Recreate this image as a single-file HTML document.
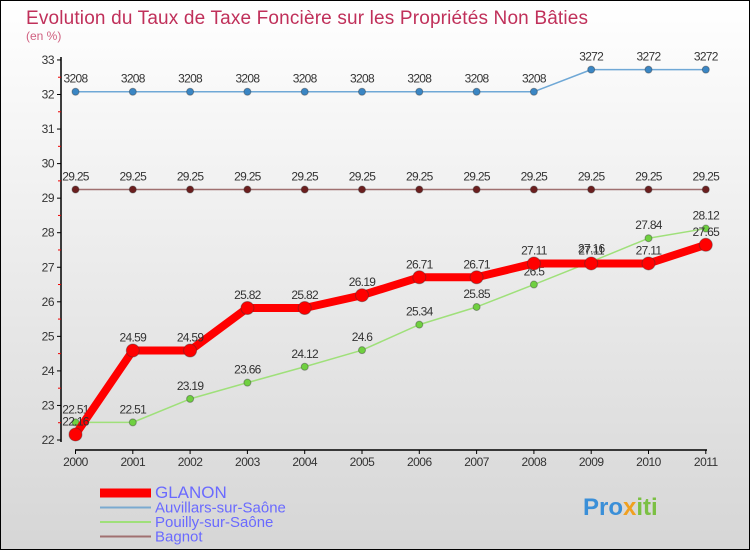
<!DOCTYPE html>
<html><head><meta charset="utf-8"><style>
body{margin:0;width:750px;height:550px;overflow:hidden;font-family:"Liberation Sans",sans-serif}
#wrap{position:absolute;left:0;top:0;width:748px;height:548px;border:1px solid #000;background:linear-gradient(#ffffff,#d6d6d6)}
</style></head><body>
<div id="wrap">
<svg id="svg" width="750" height="550" style="position:absolute;left:-1px;top:-1px">
<text x="26" y="24" font-size="19" fill="#c0305a" textLength="562">Evolution du Taux de Taxe Foncière sur les Propriétés Non Bâties</text>
<text x="26" y="40" font-size="12" fill="#d06080">(en %)</text>
</svg>
</div>
<script>
const years=["2000","2001","2002","2003","2004","2005","2006","2007","2008","2009","2010","2011"];
const glanon=[22.16,24.59,24.59,25.82,25.82,26.19,26.71,26.71,27.11,27.11,27.11,27.65];
const auvillars=[32.08,32.08,32.08,32.08,32.08,32.08,32.08,32.08,32.08,32.72,32.72,32.72];
const pouilly=[22.51,22.51,23.19,23.66,24.12,24.6,25.34,25.85,26.5,27.16,27.84,28.12];
const bagnot=[29.25,29.25,29.25,29.25,29.25,29.25,29.25,29.25,29.25,29.25,29.25,29.25];
const yTicks=[22,23,24,25,26,27,28,29,30,31,32,33];
const svg=document.getElementById('svg');const NS="http://www.w3.org/2000/svg";
const X=i=>75.5+i*57.3, Y=v=>440-(v-22)*34.55;
function el(t,a,p){const e=document.createElementNS(NS,t);for(const k in a)e.setAttribute(k,a[k]);(p||svg).appendChild(e);return e;}
const ax=el('line',{x1:61,y1:57,x2:61,y2:442,stroke:'#000','stroke-width':1.5});

const xa=el('line',{x1:75,y1:450,x2:707,y2:450,stroke:'#000','stroke-width':1.5});

yTicks.forEach(v=>{el('line',{x1:57,x2:61,y1:Y(v),y2:Y(v),stroke:'#000'});
if(v<33)el('line',{x1:58,x2:61,y1:Y(v+0.5),y2:Y(v+0.5),stroke:'#e00'});
const t=el('text',{x:54,y:Y(v)+4,'font-size':12,'text-anchor':'end',fill:'#333','letter-spacing':'-0.5'});t.textContent=v;
});
years.forEach((y,i)=>{el('line',{x1:X(i),x2:X(i),y1:450,y2:454,stroke:'#000'});
const t=el('text',{x:X(i),y:466,'font-size':12,'text-anchor':'middle',fill:'#333','letter-spacing':'-0.5'});t.textContent=y;
});
function series(data,color,w,r,dot,name,lbl){
const g=el('g',{});
el('polyline',{points:data.map((v,i)=>X(i)+','+Y(v)).join(' '),fill:'none',stroke:color,'stroke-width':w,'stroke-linejoin':'round'},g);
data.forEach((v,i)=>{const c=el('circle',{cx:X(i),cy:Y(v),r:r,fill:dot,stroke:'#333','stroke-opacity':0.4},g);

const t=el('text',{x:X(i),y:Y(v)-9,'font-size':12,'text-anchor':'middle',fill:'#333','letter-spacing':'-0.7'},g);
t.textContent=lbl?lbl(v):v;});}
series(auvillars,'#6fa8d6',1.5,3.5,'#3a86c4','auvillars-series',v=>v.toFixed(2).replace('.',''));
series(bagnot,'#a07070',1.5,3.5,'#6b1e1e','bagnot-series',v=>v.toFixed(2));
series(pouilly,'#9fe07a',1.5,3.5,'#6fd040','pouilly-series',v=>String(v));
series(glanon,'#f00',8,6.5,'#f00','glanon-series',v=>v.toFixed(2));
const leg=[['GLANON','#f00',9,17],['Auvillars-sur-Saône','#7aaad0',2,15],['Pouilly-sur-Saône','#9fe07a',2,15],['Bagnot','#a07070',2,15]];
leg.forEach((l,i)=>{const y=492+i*14.5;const g=el('g',{});
el('line',{x1:100,x2:151,y1:y+1,y2:y+1,stroke:l[1],'stroke-width':l[2]},g);
const t=el('text',{x:155,y:y+6,'font-size':l[3],fill:'#6a6aff'},g);t.textContent=l[0];});
const lg=el('text',{x:583,y:515,'font-size':24,'font-weight':'bold'});
[['Pro','#3a8fd8'],['x','#f0a020'],['iti','#7bc043']].forEach(p=>{const s=el('tspan',{fill:p[1]},lg);s.textContent=p[0];});
</script>
</body></html>
